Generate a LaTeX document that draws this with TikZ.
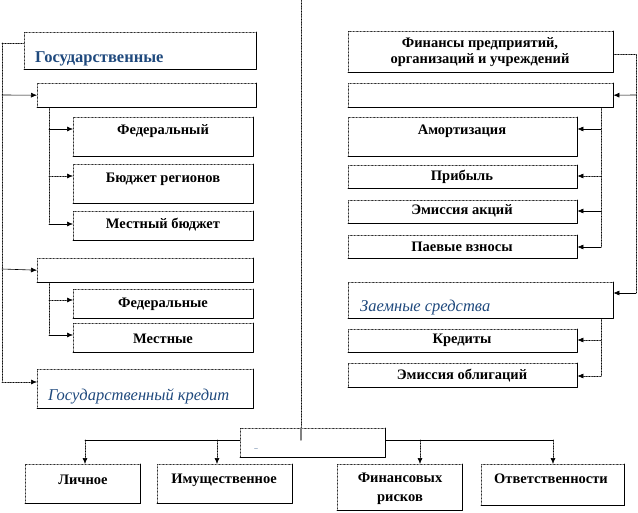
\documentclass[tikz,border=0pt]{standalone}
\usepackage{fontspec}
\setmainfont{Liberation Serif}
\usepackage{xcolor}
\usepackage{tikz}
\usetikzlibrary{calc}
\usetikzlibrary{arrows.meta}
\usetikzlibrary{positioning}
\definecolor{wordblue}{RGB}{31,73,125}

\tikzset{
  blok/.style={draw, densely dotted, thin, anchor=north west, inner sep=0pt},
  txt/.style={font=\fontsize{14.5}{16}\selectfont\bfseries, inner sep=0pt, align=center},
  bluetxt/.style={font=\fontsize{16.5}{18}\selectfont\bfseries, text=wordblue, inner sep=0pt, anchor=west},
  blueit/.style={font=\fontsize{16.5}{18}\selectfont\itshape, text=wordblue, inner sep=0pt, anchor=west},
  svaz/.style={densely dotted, semithick},
  strel/.style={->, semithick},
  strelt/.style={->, densely dotted, semithick}
}

\begin{document}
\begin{tikzpicture}[x=1pt, y=-1pt, line cap=round, line join=round, >={Latex[length=6pt,width=5pt]}]
  \useasboundingbox (0,0) rectangle (638,513);
  %--- left column
    \node[blok, minimum width=232, minimum height=37] (gos) at (24,32) {};
    \node[bluetxt] (gost) at (35,59) {Государственные};
    \node[blok, minimum width=219, minimum height=24] (bud) at (37,83) {};
    \node[blok, minimum width=180, minimum height=39] (fed) at (73,117) {};
    \node[txt] (fedt) at (163,131) {Федеральный};
    \node[blok, minimum width=180, minimum height=39] (reg) at (73,164) {};
    \node[txt] (regt) at (163,179) {Бюджет регионов};
    \node[blok, minimum width=180, minimum height=29] (mest) at (73,211) {};
    \node[txt] (mestt) at (163,225) {Местный бюджет};
    \node[blok, minimum width=216, minimum height=24] (vnf) at (37,258) {};
    \node[blok, minimum width=180, minimum height=29] (fedv) at (73,289) {};
    \node[txt] (fedvt) at (163,304) {Федеральные};
    \node[blok, minimum width=180, minimum height=29] (mestv) at (73,323) {};
    \node[txt] (mestvt) at (163,339) {Местные};
    \node[blok, minimum width=216, minimum height=39] (kred) at (37,369) {};
    \node[blueit] (kredt) at (48,396) {Государственный кредит};
  %--- right column
    \node[blok, minimum width=265, minimum height=41] (fin) at (348,31) {};
    \node[txt] (fint) at (480,52) {Финансы предприятий,\\организаций и учреждений};
    \node[blok, minimum width=265, minimum height=24] (sob) at (348,83) {};
    \node[blok, minimum width=229, minimum height=39] (amo) at (348,117) {};
    \node[txt] (amot) at (462,131) {Амортизация};
    \node[blok, minimum width=229, minimum height=23] (pri) at (348,165) {};
    \node[txt] (prit) at (462,177) {Прибыль};
    \node[blok, minimum width=229, minimum height=23] (akc) at (348,200) {};
    \node[txt] (akct) at (462,211) {Эмиссия акций};
    \node[blok, minimum width=229, minimum height=23] (pae) at (348,235) {};
    \node[txt] (paet) at (462,247) {Паевые взносы};
    \node[blok, minimum width=265, minimum height=36] (zae) at (348,282) {};
    \node[blueit] (zaet) at (360,308) {Заемные средства};
    \node[blok, minimum width=229, minimum height=23] (kre) at (348,329) {};
    \node[txt] (kret) at (462,340) {Кредиты};
    \node[blok, minimum width=229, minimum height=24] (obl) at (348,363) {};
    \node[txt] (oblt) at (462,376) {Эмиссия облигаций};
  %--- bottom row
    \node[blok, minimum width=145, minimum height=29] (str) at (240,428) {};
    \node[font=\scriptsize, text=wordblue, inner sep=0pt] (strt) at (256,450) {–};
    \node[blok, minimum width=115, minimum height=39] (lic) at (25,464) {};
    \node[txt] (lict) at (83,480) {Личное};
    \node[blok, minimum width=135, minimum height=39] (imu) at (157,464) {};
    \node[txt] (imut) at (224,480) {Имущественное};
    \node[blok, minimum width=125, minimum height=46] (ris) at (337,464) {};
    \node[txt] (rist) at (400,489) {Финансовых\\[3pt]рисков};
    \node[blok, minimum width=143, minimum height=41] (otv) at (481,464) {};
    \node[txt] (otvt) at (551,479) {Ответственности};
  %--- solid lower and right edges
    \foreach \b in {gos,bud,fed,reg,mest,vnf,fedv,mestv,kred,fin,sob,amo,pri,akc,pae,zae,kre,obl,str,lic,imu,ris,otv}
      \draw[semithick] (\b.south west) -- (\b.south east) -- (\b.north east);
  %--- central divider
    \coordinate (top) at (301,0);
    \draw[svaz] (top) -- (str.north -| top);
    \draw[gray, line width=1.5pt] (str.north -| top) -- ++(0,12);
  %--- left links
    \coordinate (L1) at (2,43);
    \coordinate (L2) at (2,382);
    \draw[svaz] (L1) -- (L2);
    \draw[svaz] (L1) -- (L1 -| gos.west);
    \draw[strel] (2,95) -- (bud.west);
    \draw[strel] (2,269) -- (vnf.west);
    \draw[strelt] (L2) -- (L2 -| kred.west);
    \coordinate (B1) at (49,224);
    \draw[svaz] (bud.south -| B1) -- (B1);
    \draw[strel] (49,129) -- (49,129 -| fed.west);
    \draw[strelt] (49,176) -- (49,176 -| reg.west);
    \draw[strel] (B1) -- (B1 -| mest.west);
    \coordinate (B2) at (49,335);
    \draw[svaz] (vnf.south -| B2) -- (B2);
    \draw[strelt] (49,300) -- (49,300 -| fedv.west);
    \draw[strel] (B2) -- (B2 -| mestv.west);
  %--- right links
    \coordinate (R1) at (636,54);
    \coordinate (R2) at (636,293);
    \draw[svaz] (R1 -| fin.east) -- (R1) -- (R2);
    \draw[strel] (636,95) -- (sob.east);
    \draw[strel] (R2) -- (R2 -| zae.east);
    \coordinate (S1) at (601,247);
    \draw[svaz] (sob.south -| S1) -- (S1);
    \draw[strel] (601,129) -- (601,129 -| amo.east);
    \draw[strelt] (601,176) -- (601,176 -| pri.east);
    \draw[strel] (601,211) -- (601,211 -| akc.east);
    \draw[strel] (S1) -- (S1 -| pae.east);
    \coordinate (S2) at (601,376);
    \draw[svaz] (zae.south -| S2) -- (S2);
    \draw[strelt] (601,340) -- (601,340 -| kre.east);
    \draw[strelt] (S2) -- (S2 -| obl.east);
  %--- bottom links
    \coordinate (H1) at (85,440);
    \coordinate (H2) at (553,440);
    \draw[semithick] (str.west |- H1) -- (H1);
    \draw[semithick] (str.east |- H2) -- (H2);
    \draw[strelt] (H1) -- (H1 |- lic.north);
    \draw[strelt] (217,440) -- (217,440 |- imu.north);
    \draw[strelt] (420,440) -- (420,440 |- ris.north);
    \draw[strelt] (H2) -- (H2 |- otv.north);
\end{tikzpicture}
\end{document}
